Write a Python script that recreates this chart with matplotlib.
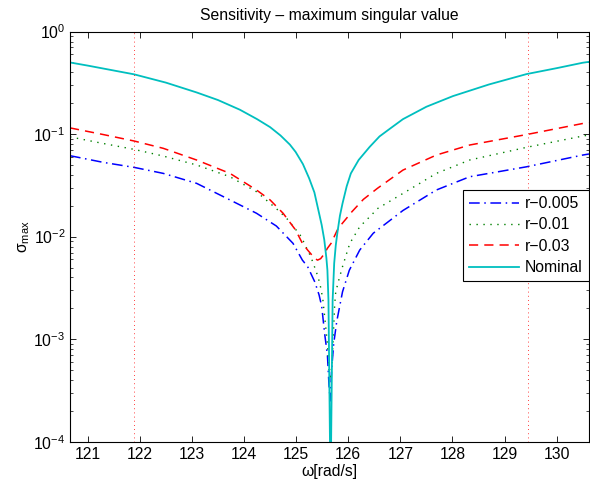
import numpy as np
import matplotlib
matplotlib.use('Agg')
import matplotlib.pyplot as plt

plt.rcParams['font.family'] = ['Liberation Sans', 'DejaVu Sans']
plt.rcParams['mathtext.fontset'] = 'custom'
plt.rcParams['mathtext.rm'] = 'Liberation Sans'
plt.rcParams['mathtext.it'] = 'Liberation Sans:italic'
plt.rcParams['font.size'] = 11.3

# values
nom_w = [120.66, 121.0, 121.89, 122.5, 123.09, 123.5, 123.92, 124.25, 124.50,
         124.70, 124.88, 124.99, 125.13, 125.25, 125.35, 125.44, 125.49, 125.54,
         125.58, 125.60, 125.62, 125.66, 125.70, 125.73, 125.76, 125.79, 125.84,
         125.89, 125.97, 126.05, 126.2, 126.41, 126.60, 126.8, 127.05, 127.5,
         128.01, 128.7, 129.42, 130.0, 130.50, 130.62]
nom_s = [0.50, 0.466, 0.383, 0.318, 0.255, 0.215, 0.173, 0.140, 0.117,
         0.097, 0.079, 0.067, 0.051, 0.037, 0.027, 0.0169, 0.0130, 0.0093,
         0.0062, 0.0047, 0.0024, 0.00003, 0.0024, 0.0055, 0.0082, 0.0108, 0.016,
         0.0211, 0.031, 0.0414, 0.056, 0.075, 0.095, 0.113, 0.140, 0.185,
         0.235, 0.305, 0.385, 0.44, 0.497, 0.507]

r03_w = [120.66, 121.3, 121.89, 122.45, 123.09, 123.73, 124.24, 124.50, 124.75,
         124.99, 125.12, 125.22, 125.35, 125.41, 125.47, 125.54, 125.60, 125.67,
         125.79, 125.86, 125.99, 126.07, 126.29, 126.56, 127.05, 127.69, 128.33,
         129.42, 130.50, 130.62]
r03_s = [0.115, 0.099, 0.0857, 0.0727, 0.0559, 0.0414, 0.0285, 0.0228, 0.0169,
         0.0116, 0.0086, 0.0074, 0.0062, 0.0059, 0.0061, 0.0068, 0.0077, 0.0086,
         0.0116, 0.013, 0.0156, 0.0175, 0.0231, 0.0296, 0.0446, 0.0625, 0.0783,
         0.099, 0.127, 0.129]

r01_w = [120.66, 121.3, 121.89, 122.45, 123.09, 123.73, 124.24, 124.66, 124.85,
         125.10, 125.17, 125.28, 125.39, 125.455, 125.51, 125.54, 125.58, 125.60,
         125.63, 125.655, 125.69, 125.72, 125.74, 125.76, 125.82, 125.89, 125.95,
         126.03, 126.22, 126.41, 126.57, 127.05, 127.69, 128.33, 129.42, 130.50,
         130.62]
r01_s = [0.094, 0.081, 0.071, 0.0611, 0.050, 0.0384, 0.0274, 0.018, 0.0145,
         0.0100, 0.0083, 0.0064, 0.0045, 0.0035, 0.0025, 0.0018, 0.00114, 0.0009,
         0.0005, 0.0004, 0.0006, 0.0013, 0.0022, 0.0029, 0.0038, 0.0051, 0.0064,
         0.0086, 0.0125, 0.0156, 0.0189, 0.0264, 0.0414, 0.0559, 0.0743, 0.0958,
         0.098]

r005_w = [120.66, 121.3, 121.89, 122.45, 123.09, 123.73, 124.24, 124.62, 124.94,
          125.12, 125.22, 125.36, 125.44, 125.49, 125.55, 125.60, 125.63, 125.655,
          125.68, 125.72, 125.78, 125.89, 126.02, 126.22, 126.48, 127.05, 127.69,
          128.33, 129.42, 130.50, 130.62]
r005_s = [0.0616, 0.053, 0.0474, 0.0414, 0.0331, 0.0228, 0.0169, 0.0127, 0.0086,
          0.0059, 0.0051, 0.0036, 0.0027, 0.0021, 0.0011, 0.0007, 0.00036, 0.00025,
          0.0005, 0.0009, 0.0015, 0.0029, 0.0047, 0.0074, 0.0108, 0.018, 0.0285,
          0.0384, 0.048, 0.0625, 0.064]

band_w = [121.89, 129.44]

x_ticks = [121, 122, 123, 124, 125, 126, 127, 128, 129, 130]

fig = plt.figure(figsize=(5.90, 4.87), dpi=100)
ax = fig.add_axes([70/590., 45.3/487., 519/590., 410.1/487.])

l1, = ax.plot(r005_w, r005_s, color='b', lw=1.1, linestyle=(0, (7, 3, 1, 3)), label='r\u22120.005')
l2, = ax.plot(r01_w, r01_s, color=(0, 0.5, 0), lw=1.0, linestyle=(0, (1, 4)), label='r\u22120.01')
l3, = ax.plot(r03_w, r03_s, color='r', lw=1.1, linestyle=(0, (6, 4)), label='r\u22120.03')
l4, = ax.plot(nom_w, nom_s, color=(0, 0.75, 0.75), lw=1.3, label='Nominal')
for w in band_w:
    ax.axvline(w, color='r', lw=0.6, linestyle=(0, (1, 4)))

ax.set_yscale('log')
ax.set_xlim(120.66, 130.62)
ax.set_ylim(1e-4, 1e0)
ax.set_xticks(x_ticks)
ax.tick_params(which='both', direction='in', top=True, right=True, labelsize=11.3)
ax.tick_params(which='major', length=4.5, width=0.6)
ax.tick_params(which='minor', length=2.5, width=0.5)
for sp in ax.spines.values():
    sp.set_linewidth(0.8)

ax.set_xlabel('\u03c9[rad/s]', labelpad=2)
ax.set_ylabel('\u03c3$_{\\mathregular{max}}$', labelpad=1)
ax.set_title('Sensitivity \u2013 maximum singular value', fontsize=11.3, pad=8)

leg = ax.legend(handles=[l1, l2, l3, l4], loc='upper right',
                bbox_to_anchor=(1.0, 0.614), fancybox=False, framealpha=1,
                edgecolor='k', handlelength=3.2, handletextpad=0.35,
                labelspacing=0.4, borderpad=0.4, borderaxespad=0, fontsize=11.3)
leg.get_frame().set_linewidth(0.8)

plt.savefig('out.png', dpi=100)
